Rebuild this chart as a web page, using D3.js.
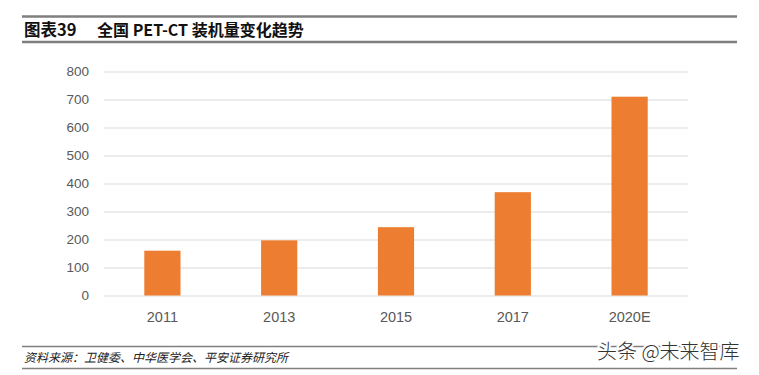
<!DOCTYPE html>
<html>
<head>
<meta charset="utf-8">
<script src="https://cdn.jsdelivr.net/npm/d3@7"></script>
<style>
  body { margin: 0; background: #fff; }
  svg { display: block; font-family: "Noto Sans CJK SC", "Liberation Sans", sans-serif; }
</style>
</head>
<body>
<svg id="chart" width="759" height="375"></svg>
<script>
// Data
const years = ["2011", "2013", "2015", "2017", "2020E"];
const units = [160, 197, 244, 369, 710];
const yTicks = [0, 100, 200, 300, 400, 500, 600, 700, 800];

const W = 759, H = 375;
const margin = {top: 71.5, right: 71, bottom: 79.5, left: 104},
    width = W - margin.left - margin.right,
    height = H - margin.top - margin.bottom;

const root = d3.select("#chart");

// Header rules and title
root.append("line").attr("x1", 22).attr("x2", 737).attr("y1", 16.5).attr("y2", 16.5)
  .attr("stroke", "#7f7f7f").attr("stroke-width", 2.5);
root.append("line").attr("x1", 22).attr("x2", 737).attr("y1", 42).attr("y2", 42)
  .attr("stroke", "#7f7f7f").attr("stroke-width", 2.5);
root.append("text").attr("x", 24).attr("y", 36)
  .style("font-size", "16.5px").style("font-weight", "bold").attr("fill", "#111")
  .text("图表39");
root.append("text").attr("x", 97).attr("y", 36)
  .style("font-size", "16px").style("font-weight", "bold").attr("fill", "#111")
  .text("全国 PET-CT 装机量变化趋势");

const svg = root.append("g")
  .attr("transform", `translate(${margin.left},${margin.top})`);

// Y scale + gridlines
const y = d3.scaleLinear().domain([0, 800]).range([height, 0]);
svg.append("g")
  .call(d3.axisLeft(y).tickValues(yTicks).tickSize(-width).tickPadding(15))
  .call(g => g.select(".domain").remove())
  .call(g => g.selectAll(".tick line").attr("stroke", "#d9d9d9").attr("stroke-width", 1.2))
  .call(g => g.selectAll(".tick text").attr("fill", "#595959")
    .style("font-family", "Liberation Sans, Arial, sans-serif").style("font-size", "13.5px"));

// X scale
const x = d3.scaleBand().domain(years).range([0, width]).paddingInner(0.69).paddingOuter(0.345);
svg.append("g")
  .attr("transform", `translate(0,${height})`)
  .call(d3.axisBottom(x).tickSize(0).tickPadding(16))
  .call(g => g.select(".domain").remove())
  .call(g => g.selectAll(".tick text").attr("fill", "#595959")
    .style("font-family", "Liberation Sans, Arial, sans-serif").style("font-size", "14.5px"));

// Bars
svg.selectAll(".bar")
  .data(years)
  .join("rect")
  .attr("class", "bar")
  .attr("x", (d) => x(d))
  .attr("y", (d, i) => y(units[i]))
  .attr("width", x.bandwidth())
  .attr("height", (d, i) => height - y(units[i]))
  .attr("fill", "#ed7d31");

// Footer
root.append("line").attr("x1", 22).attr("x2", 737).attr("y1", 346.5).attr("y2", 346.5)
  .attr("stroke", "#7f7f7f").attr("stroke-width", 1.5);
root.append("line").attr("x1", 22).attr("x2", 737).attr("y1", 368.5).attr("y2", 368.5)
  .attr("stroke", "#7f7f7f").attr("stroke-width", 1.5);
root.append("text").attr("x", 24).attr("y", 362)
  .style("font-size", "12px").style("font-style", "italic").attr("fill", "#222")
  .text("资料来源：卫健委、中华医学会、平安证券研究所");

// Watermark
root.append("text").attr("x", 597).attr("y", 359)
  .style("font-size", "20px").style("font-weight", "300").attr("fill", "#fff")
  .attr("stroke", "#fff").attr("stroke-width", 4).attr("stroke-linejoin", "round")
  .text("头条 @未来智库");
root.append("text").attr("x", 597).attr("y", 359)
  .style("font-size", "20px").style("font-weight", "300").attr("fill", "#333")
  .text("头条 @未来智库");
</script>
</body>
</html>
